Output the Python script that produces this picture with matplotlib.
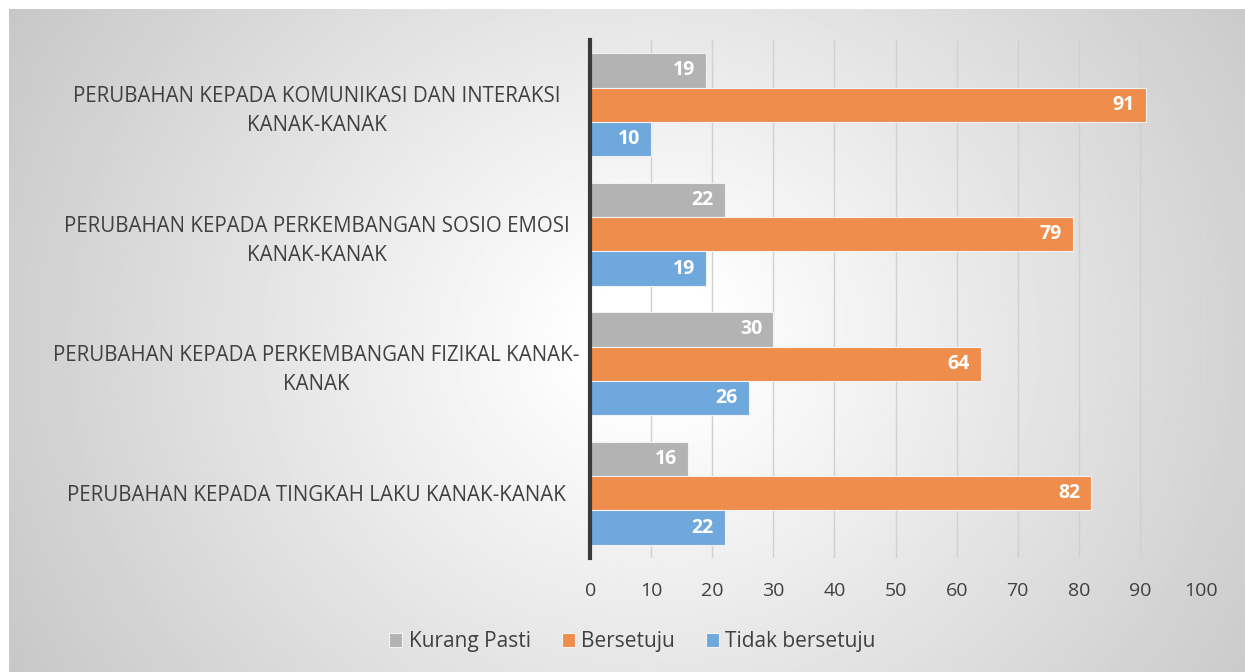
import numpy as np
import matplotlib.pyplot as plt

categories = ["PERUBAHAN KEPADA KOMUNIKASI DAN INTERAKSI\nKANAK-KANAK",
              "PERUBAHAN KEPADA PERKEMBANGAN SOSIO EMOSI\nKANAK-KANAK",
              "PERUBAHAN KEPADA PERKEMBANGAN FIZIKAL KANAK-\nKANAK",
              "PERUBAHAN KEPADA TINGKAH LAKU KANAK-KANAK"]
series_names = ["Kurang Pasti", "Bersetuju", "Tidak bersetuju"]
kurang_pasti = [19, 22, 30, 16]
bersetuju = [91, 79, 64, 82]
tidak_bersetuju = [10, 19, 26, 22]
colors = ["#B3B3B3", "#EF8D4C", "#6FA8DC"]
xticks = list(range(0, 101, 10))

plt.rcParams['font.family'] = ['Open Sans', 'DejaVu Sans']

fig = plt.figure(figsize=(12.45, 6.72), dpi=100)

# radial gradient background
bg = fig.add_axes([0.0072, 0.0, 0.9928, 0.9866], zorder=-10)
yy, xx = np.mgrid[0:300, 0:560]
cx, cy = 290, 150
r = np.sqrt(((xx - cx) / 560.0) ** 2 + ((yy - cy) / 300.0) ** 2 * 0.35)
shade = np.clip(1.02 - r * 0.40, 0.74, 1.0)
bg.imshow(shade, cmap='gray', vmin=0, vmax=1, aspect='auto', interpolation='bilinear')
bg.axis('off')

ax = fig.add_axes([0.474, 0.1695, 0.4907, 0.7710])
ax.patch.set_alpha(0)

n = len(categories)
y = np.arange(n)[::-1].astype(float)
h = 0.265
data = [kurang_pasti, bersetuju, tidak_bersetuju]
for i, (name, vals, c) in enumerate(zip(series_names, data, colors)):
    pos = y + (1 - i) * h
    bars = ax.barh(pos, vals, height=h, color=c, edgecolor='#F2F2F2', linewidth=0.8,
                   label=name, zorder=3)
    for b, v in zip(bars, vals):
        ax.text(b.get_width() - 1.8, b.get_y() + b.get_height() / 2, str(v),
                ha='right', va='center', color='white', fontsize=14,
                fontweight='bold', zorder=4)

ax.set_xlim(0, 100)
ax.set_ylim(-0.5, n - 0.5)
ax.set_xticks(xticks)
ax.set_xticklabels([str(t) for t in xticks], fontsize=14, color='#404040')
ax.set_yticks(y)
ax.set_yticklabels(categories, fontsize=14.8, color='#404040', ha='center',
                   multialignment='center', linespacing=1.5)
ax.tick_params(axis='y', length=0, pad=197)
ax.tick_params(axis='x', length=0, pad=17)
ax.grid(axis='x', color='#D0D0D0', linewidth=1, zorder=0)
for s in ['top', 'right', 'bottom']:
    ax.spines[s].set_visible(False)
ax.spines['left'].set_color('#3A3A3A')
ax.spines['left'].set_linewidth(3)
ax.spines['left'].set_zorder(5)

fig.legend(loc='center', bbox_to_anchor=(0.508, 0.045), ncol=3, frameon=False,
           fontsize=15, handlelength=0.62, handleheight=0.62, handletextpad=0.3,
           columnspacing=1.5, labelcolor='#404040')

fig.savefig('out.png', dpi=100)
